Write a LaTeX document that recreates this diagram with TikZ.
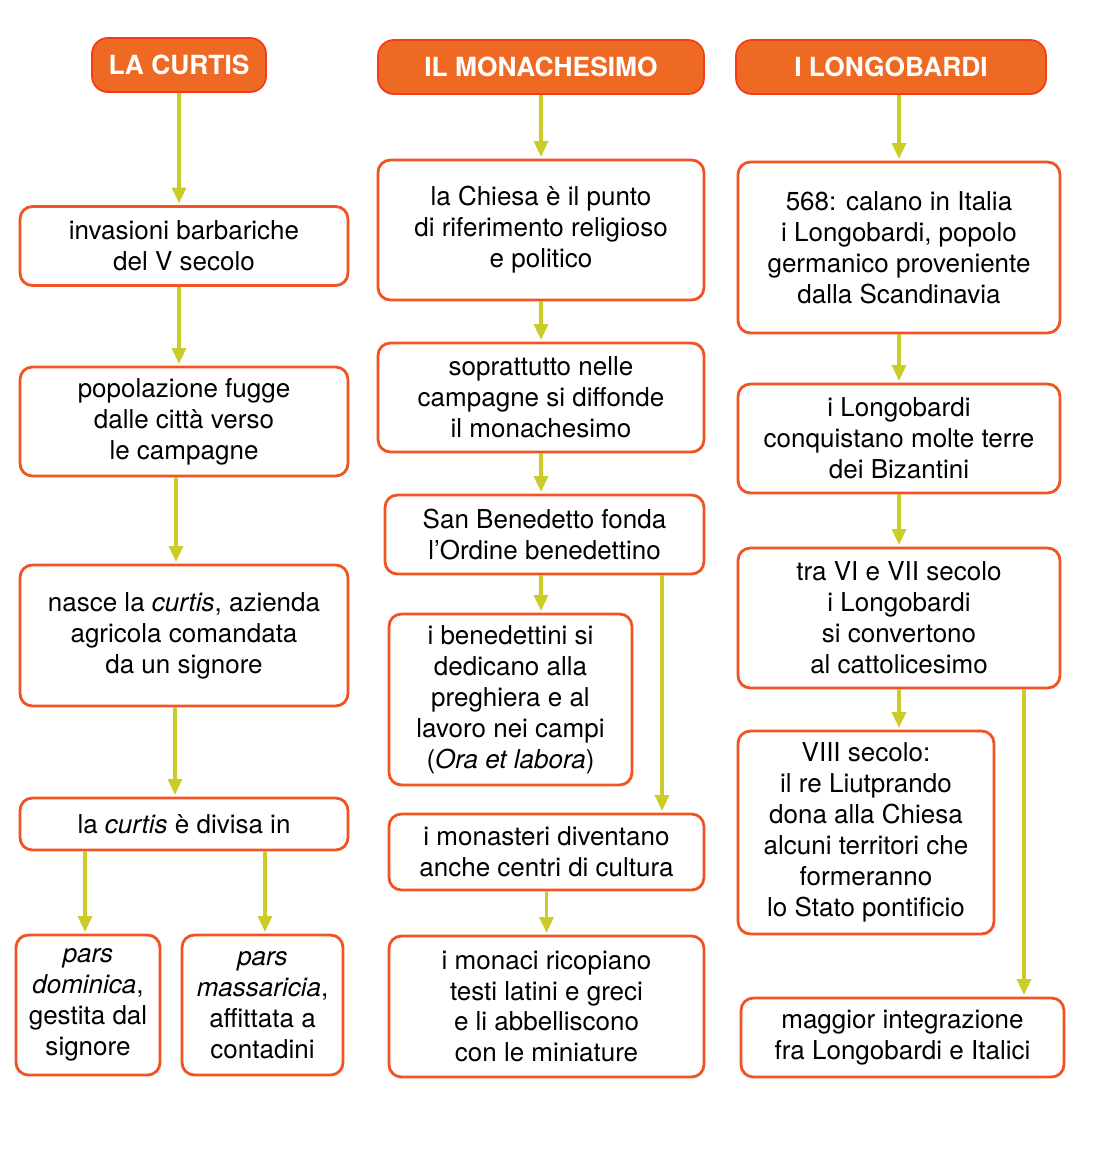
\documentclass[tikz,border=0pt]{standalone}
\usepackage{fontspec}
\setmainfont{TeX Gyre Heros}
\usetikzlibrary{arrows.meta}
\definecolor{bordo}{RGB}{240,84,34}
\definecolor{testa}{RGB}{238,106,36}
\definecolor{freccia}{RGB}{204,204,40}

\begin{document}
\begin{tikzpicture}[x=0.02cm,y=-0.02cm,
  box/.style={draw=bordo,line width=1.6pt,rounded corners=7pt,align=center,inner sep=0pt,
    font=\fontsize{14.8}{17.6}\selectfont},
  head/.style={fill=testa,draw=bordo!70!red,line width=1pt,rounded corners=9pt,text=white,
    inner sep=0pt,font=\fontsize{15}{17}\selectfont\bfseries},
  link/.style={draw=freccia,line width=1.8pt,-{Triangle[length=9pt,width=8pt]},shorten >=1pt}]
\useasboundingbox[fill=white] (0,0) rectangle (1108,1154);

% titoli
\node[head,minimum width=3.48cm,minimum height=1.08cm] (hcur) at (179,65) {LA CURTIS};
\node[head,minimum width=6.52cm,minimum height=1.08cm] (hmon) at (541,67) {IL MONACHESIMO};
\node[head,minimum width=6.2cm,minimum height=1.08cm] (hlon) at (891,67) {I LONGOBARDI};

% la curtis
\node[box,minimum width=6.56cm,minimum height=1.58cm] (inv) at (184,246) {invasioni barbariche\\del V secolo};
\node[box,minimum width=6.56cm,minimum height=2.18cm] (pop) at (184,421.5) {popolazione fugge\\dalle città verso\\le campagne};
\node[box,minimum width=6.56cm,minimum height=2.82cm] (nas) at (184,635.5) {nasce la \textit{curtis}, azienda\\agricola comandata\\da un signore};
\node[box,minimum width=6.56cm,minimum height=1.04cm] (div) at (184,824) {la \textit{curtis} è divisa in};
\node[box,minimum width=2.88cm,minimum height=2.8cm] (dom) at (88,1005) {\textit{pars}\\\textit{dominica},\\gestita dal\\signore};
\node[box,minimum width=3.22cm,minimum height=2.8cm] (mas) at (262.5,1005) {\textit{pars}\\\textit{massaricia},\\affittata a\\contadini};

% il monachesimo
\node[box,minimum width=6.52cm,minimum height=2.8cm] (chi) at (541,230) {la Chiesa è il punto\\di riferimento religioso\\e politico};
\node[box,minimum width=6.52cm,minimum height=2.18cm] (sop) at (541,397.5) {soprattutto nelle\\campagne si diffonde\\il monachesimo};
\node[box,minimum width=6.38cm,minimum height=1.58cm] (ben) at (544.5,534.5) {San Benedetto fonda\\l’Ordine benedettino};
\node[box,minimum width=4.86cm,minimum height=3.42cm] (ded) at (510.5,699.5) {i benedettini si\\dedicano alla\\preghiera e al\\lavoro nei campi\\(\textit{Ora et labora})};
\node[box,minimum width=6.3cm,minimum height=1.52cm] (mst) at (546.5,852) {i monasteri diventano\\anche centri di cultura};
\node[box,minimum width=6.3cm,minimum height=2.82cm] (mnc) at (546.5,1006.5) {i monaci ricopiano\\testi latini e greci\\e li abbelliscono\\con le miniature};

% i longobardi
\node[box,minimum width=6.44cm,minimum height=3.42cm] (cal) at (899,247.5) {568: calano in Italia\\i Longobardi, popolo\\germanico proveniente\\dalla Scandinavia};
\node[box,minimum width=6.44cm,minimum height=2.18cm] (cnq) at (899,438.5) {i Longobardi\\conquistano molte terre\\dei Bizantini};
\node[box,minimum width=6.44cm,minimum height=2.8cm] (cvt) at (899,618) {tra VI e VII secolo\\i Longobardi\\si convertono\\al cattolicesimo};
\node[box,minimum width=5.12cm,minimum height=4.06cm] (lut) at (866,832.5) {VIII secolo:\\il re Liutprando\\dona alla Chiesa\\alcuni territori che\\formeranno\\lo Stato pontificio};
\node[box,minimum width=6.46cm,minimum height=1.58cm] (itg) at (902.5,1037.5) {maggior integrazione\\fra Longobardi e Italici};

% frecce
\draw[link] (hcur.south) -- (hcur.south |- inv.north);
\draw[link] (inv.south -| hcur) -- (pop.north -| hcur);
\draw[link] (pop.south -| 176,0) -- (nas.north -| 176,0);
\draw[link] (nas.south -| 175,0) -- (div.north -| 175,0);
\draw[link] (div.south -| 85,0) -- (dom.north -| 85,0);
\draw[link] (div.south -| 265,0) -- (mas.north -| 265,0);

\draw[link] (hmon.south) -- (hmon.south |- chi.north);
\draw[link] (chi.south) -- (chi.south |- sop.north);
\draw[link] (sop.south) -- (sop.south |- ben.north);
\draw[link] (ben.south -| chi) -- (ded.north -| chi);
\draw[link] (ben.south -| 662,0) -- (mst.north -| 662,0);
\draw[link] (mst.south) -- (mnc.north);

\draw[link] (hlon.south -| cal) -- (cal.north);
\draw[link] (cal.south) -- (cnq.north);
\draw[link] (cnq.south) -- (cvt.north);
\draw[link] (cvt.south) -- (cvt.south |- lut.north);
\draw[link] (cvt.south -| 1024,0) -- (itg.north -| 1024,0);
\end{tikzpicture}
\end{document}
